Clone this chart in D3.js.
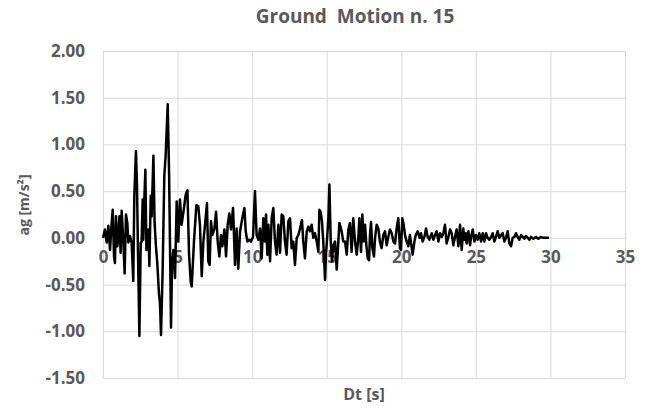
<!DOCTYPE html>
<html>
<head>
<meta charset="UTF-8">
<title>Ground Motion n. 15</title>
<style>
  html, body { margin: 0; padding: 0; background: #fff; }
  text { font-family: "Open Sans", Lato, sans-serif; font-weight: bold; fill: #595959; }
  .grid line { stroke: #d9d9d9; stroke-width: 1px; }
  .grid path { display: none; }
  .signal { fill: none; stroke: #000; stroke-width: 2.5px; stroke-linejoin: round; }
</style>
</head>
<body>
<svg width="647" height="408"></svg>
<script src="https://cdn.jsdelivr.net/npm/d3@7/dist/d3.min.js"></script>
<script>
// time [s] and acceleration [m/s2]
const time = [
  0.00, 0.13, 0.25, 0.36, 0.47, 0.58, 0.65, 0.74, 0.80, 0.87, 0.96, 1.03, 1.10, 1.18, 1.25, 1.36,
  1.45, 1.54, 1.63, 1.70, 1.81, 1.92, 2.03, 2.10, 2.21, 2.28, 2.35, 2.44, 2.53, 2.59, 2.66, 2.70,
  2.77, 2.84, 2.91, 2.97, 3.04, 3.11, 3.20, 3.26, 3.38, 3.46, 3.55, 3.64, 3.75, 3.82, 3.89, 4.00,
  4.11, 4.20, 4.34, 4.43, 4.49, 4.56, 4.63, 4.72,
  4.83, 4.94, 5.05, 5.16, 5.27, 5.43, 5.54, 5.66, 5.77, 5.88, 5.95, 6.10, 6.26, 6.39, 6.50, 6.62,
  6.73, 6.84, 6.97, 7.06, 7.15, 7.24, 7.33, 7.47, 7.58, 7.69, 7.80, 7.91, 8.00, 8.14, 8.25, 8.36,
  8.47, 8.58, 8.72, 8.85, 8.96, 9.07, 9.19, 9.34, 9.48, 9.57, 9.68, 9.79, 9.92, 10.06, 10.19, 10.30,
  10.42,
  10.53, 10.64, 10.75, 10.86, 10.93, 11.02, 11.09, 11.20, 11.31, 11.42, 11.53, 11.64, 11.76, 11.87,
  11.98, 12.09, 12.20, 12.31, 12.43, 12.54, 12.65, 12.76, 12.87, 12.99, 13.10, 13.21, 13.34, 13.43,
  13.54, 13.66, 13.77, 13.88, 13.99, 14.10, 14.21, 14.33, 14.44, 14.51, 14.59, 14.68, 14.77, 14.89,
  14.95, 15.04, 15.11, 15.18, 15.27, 15.35, 15.44, 15.56, 15.67, 15.78, 15.85, 16.00, 16.11,
  16.23, 16.34, 16.45, 16.56, 16.67, 16.78, 16.90, 17.01, 17.12, 17.19, 17.30, 17.39, 17.48, 17.57,
  17.66, 17.75, 17.84, 17.90, 17.97, 18.06, 18.17, 18.24, 18.35, 18.46, 18.57, 18.68, 18.80, 18.91,
  19.02, 19.13, 19.24, 19.36, 19.47, 19.58, 19.69, 19.80, 19.91, 19.98, 20.07, 20.16, 20.25, 20.36,
  20.47, 20.58, 20.70, 20.76, 20.88, 20.97, 21.10, 21.23, 21.32, 21.43, 21.55, 21.66, 21.77, 21.88,
  22.04, 22.15, 22.26, 22.37, 22.49, 22.60, 22.71, 22.82, 22.93, 23.04, 23.16, 23.27, 23.38, 23.49,
  23.60, 23.71, 23.83, 23.94, 24.05, 24.16, 24.23, 24.32, 24.38, 24.50, 24.61, 24.68, 24.79, 24.90,
  25.01, 25.12, 25.23, 25.35, 25.46, 25.57, 25.68, 25.79, 25.90, 26.02, 26.13, 26.24, 26.35, 26.46,
  26.58, 26.69, 26.80, 26.91, 27.02, 27.13, 27.25, 27.36, 27.47, 27.58, 27.69, 27.80, 27.92, 28.03,
  28.14, 28.25, 28.36, 28.48, 28.59, 28.70, 28.86, 29.03, 29.19, 29.35, 29.53, 29.75, 29.90
]
const accel = [
  0.00, 0.09, -0.05, 0.13, -0.13, 0.16, 0.30, -0.20, -0.27, 0.23, -0.09, 0.02, 0.23, -0.16, 0.29, -0.02,
  -0.38, 0.25, 0.16, -0.05, 0.02, -0.05, -0.46, 0.45, 0.93, 0.55, -0.20, -1.05, -0.05, -0.04, 0.41, -0.02,
  0.41, 0.73, -0.13, -0.09, 0.09, -0.30, 0.45, 0.23, 0.88, 0.16, -0.09, -0.27, -0.59, -0.70, -1.04, -0.34,
  0.66, 0.88, 1.43, 0.70, -0.05, -0.96, -0.27, -0.13,
  -0.43, 0.39, -0.04, 0.41, 0.14, 0.32, 0.46, 0.51, -0.18, -0.47, -0.52, -0.04, 0.35, 0.34, 0.14, -0.41,
  -0.04, 0.14, 0.37, -0.25, -0.29, 0.18, 0.03, 0.10, 0.28, -0.04, -0.20, 0.03, -0.09, 0.09, -0.20, 0.14,
  0.26, 0.09, 0.32, -0.29, 0.10, -0.33, 0.07, 0.21, 0.32, 0.07, -0.04, -0.02, -0.04, 0.01, 0.50, 0.03,
  -0.02,
  0.10, -0.22, 0.21, -0.04, 0.25, -0.18, 0.14, -0.25, 0.21, 0.32, -0.04, -0.18, 0.14, -0.16,
  0.25, 0.23, -0.04, -0.18, 0.18, 0.21, -0.11, -0.04, -0.29, 0.00, 0.03, 0.10, 0.19, -0.04,
  -0.22, 0.07, 0.12, 0.07, 0.14, 0.00, 0.05, -0.04, -0.15, 0.30, 0.28, 0.18, -0.04, -0.45,
  -0.18, 0.03, 0.21, 0.57, -0.04, -0.25, -0.08, -0.04, -0.34, -0.04, 0.16, 0.07, -0.04,
  -0.04, -0.18, 0.09, 0.16, -0.15, 0.21, -0.04, -0.18, 0.00, 0.21, -0.15, 0.25, -0.04, 0.14,
  -0.08, -0.22, -0.24, 0.03, 0.17, -0.11, -0.20, 0.00, 0.14, 0.10, -0.04, -0.11, 0.03, 0.07,
  -0.08, 0.01, 0.09, 0.05, -0.04, -0.06, 0.10, 0.21, -0.11, -0.13, 0.21, 0.14, 0.03, -0.04,
  -0.09, 0.03, -0.11, -0.18, -0.04, 0.03, 0.07, 0.00, 0.05, -0.04, 0.01, 0.10, 0.01, -0.02,
  0.05, -0.02, 0.03, 0.07, -0.04, 0.05, 0.01, 0.05, 0.14, -0.06, 0.01, 0.09, 0.05, -0.08,
  0.01, 0.09, -0.09, 0.14, -0.13, 0.10, -0.02, 0.05, -0.06, 0.07, -0.08, 0.01, 0.09, -0.04,
  0.03, -0.02, 0.05, -0.04, 0.05, -0.04, 0.05, 0.00, -0.02, 0.01, 0.05, -0.04, 0.01, 0.07,
  0.00, 0.03, 0.05, -0.04, 0.00, 0.07, -0.06, -0.09, 0.00, 0.01, 0.05, 0.01, -0.02, 0.03,
  0.01, -0.01, 0.02, 0.00, -0.02, 0.01, -0.01, 0.01, -0.01, 0.01, 0.00, 0.00, 0.00
]
const xTicks = [0, 5, 10, 15, 20, 25, 30, 35]
const yTicks = [-1.5, -1.0, -0.5, 0, 0.5, 1.0, 1.5, 2.0]

const title = 'Ground  Motion n. 15'
const xTitle = 'Dt [s]'

const svg = d3.select('svg')
const margin = { top: 51, right: 22, bottom: 30, left: 103 }
const width = +svg.attr('width') - margin.left - margin.right
const height = +svg.attr('height') - margin.top - margin.bottom

const x = d3.scaleLinear().domain([0, 35]).range([0, width])
const y = d3.scaleLinear().domain([-1.5, 2.0]).range([height, 0])

const g = svg.append('g').attr('transform', `translate(${margin.left},${margin.top})`)

// gridlines
g.append('g').attr('class', 'grid')
  .call(d3.axisLeft(y).tickValues(yTicks).tickSize(-width).tickFormat(''))
g.append('g').attr('class', 'grid')
  .call(d3.axisBottom(x).tickValues(xTicks).tickSize(height).tickFormat(''))

// y tick labels
g.append('g')
  .call(d3.axisLeft(y).tickValues(yTicks).tickSize(0).tickPadding(18).tickFormat(d => d.toFixed(2)))
  .call(a => a.select('.domain').remove())
  .selectAll('text').style('font-size', '17px').attr('fill', '#595959')

// x tick labels sitting under the zero line
g.append('g')
  .attr('transform', `translate(0,${y(0)})`)
  .call(d3.axisBottom(x).tickValues(xTicks).tickSize(0).tickPadding(13))
  .call(a => a.select('.domain').remove())
  .selectAll('text').style('font-size', '17px').attr('fill', '#595959')

// the record itself
const pts = time.map((t, i) => [t, accel[i]])
g.append('path')
  .datum(pts)
  .attr('class', 'signal')
  .attr('d', d3.line().x(d => x(d[0])).y(d => y(d[1])))

// titles
svg.append('text')
  .attr('x', 355).attr('y', 23)
  .attr('text-anchor', 'middle').style('font-size', '19px').style('white-space', 'pre')
  .text(title)

svg.append('text')
  .attr('x', margin.left + width / 2).attr('y', 400)
  .attr('text-anchor', 'middle').style('font-size', '16px')
  .text(xTitle)

svg.append('text')
  .attr('transform', `translate(29,205) rotate(-90)`)
  .attr('text-anchor', 'middle').style('font-size', '14px')
  .text('ag [m/s²]')
</script>
</body>
</html>
